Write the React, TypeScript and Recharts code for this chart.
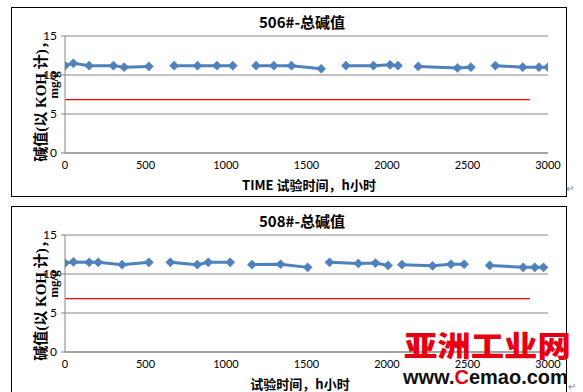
import React from "react";
import { LineChart, Line, XAxis, YAxis, CartesianGrid } from "recharts";

// ---- data ----
const xTicks = [0, 500, 1000, 1500, 2000, 2500, 3000];
const yTicks = [0, 5, 10, 15];

// 506# : test hours per measuring run (segments broken by gaps)
const hours506 = [
  [0, 52, 150, 301, 367, 521],
  [678, 823, 944, 1042],
  [1187, 1297, 1407, 1591],
  [1745, 1916, 2019, 2068],
  [2194, 2437, 2521],
  [2673, 2843, 2944, 3000],
];
const tbn506 = [
  [11.2, 11.5, 11.2, 11.2, 11.0, 11.1],
  [11.2, 11.2, 11.2, 11.2],
  [11.2, 11.2, 11.2, 10.8],
  [11.2, 11.2, 11.3, 11.2],
  [11.1, 10.9, 11.0],
  [11.2, 11.0, 11.0, 11.0],
];

// 508#
const hours508 = [
  [0, 52, 150, 206, 355, 521],
  [654, 822, 890, 1026],
  [1161, 1339, 1507],
  [1643, 1822, 1928, 2007],
  [2093, 2283, 2397, 2479],
  [2638, 2846, 2918, 2972],
];
const tbn508 = [
  [11.4, 11.55, 11.5, 11.5, 11.2, 11.5],
  [11.5, 11.2, 11.5, 11.5],
  [11.2, 11.25, 10.85],
  [11.5, 11.35, 11.4, 11.1],
  [11.2, 11.05, 11.25, 11.25],
  [11.1, 10.85, 10.85, 10.85],
];

// red limit line
const limitHours = [0, 2888];
const limitValue = [6.85, 6.85];

const titles = ["506#-总碱值", "508#-总碱值"];
const xTitles = ["TIME 试验时间，h小时", "试验时间，h小时"];
const yTitle = "碱值(以 KOH 计)，";
const yUnit = "mg/g";

const BLUE = "#4F81BD";
const GRID = "#868686";

const Diamond = (props: any) => {
  const { cx, cy } = props;
  if (cx == null || cy == null) return null;
  const r = 4.6;
  return (
    <polygon
      points={`${cx},${cy - r} ${cx + r},${cy} ${cx},${cy + r} ${cx - r},${cy}`}
      fill={BLUE}
      stroke={BLUE}
      strokeWidth={0.5}
    />
  );
};

const abs = (extra: React.CSSProperties): React.CSSProperties => ({
  position: "absolute",
  whiteSpace: "nowrap",
  lineHeight: 1,
  ...extra,
});

function Panel({
  top,
  hours,
  tbn,
  title,
  xTitle,
  xTitleX,
  height,
  bottomBorder,
}: {
  top: number;
  hours: number[][];
  tbn: number[][];
  title: string;
  xTitle: string;
  xTitleX: number;
  height: number;
  bottomBorder: boolean;
}) {
  const segments = hours.map((hs, i) => hs.map((h, j) => ({ x: h, y: tbn[i][j] })));
  const limit = limitHours.map((h, i) => ({ x: h, y: limitValue[i] }));
  return (
    <>
      <div
        style={{
          position: "absolute",
          left: 11,
          top,
          width: 556,
          height,
          boxSizing: "border-box",
          border: "1px solid #000",
          borderBottom: bottomBorder ? "1px solid #000" : "none",
        }}
      />
      <div style={{ position: "absolute", left: 11, top }}>
        <LineChart
          width={556}
          height={189}
          margin={{ top: 29, right: 19, bottom: 0, left: 0 }}
        >
          <CartesianGrid horizontal vertical={false} stroke={GRID} strokeWidth={1} />
          <XAxis
            type="number"
            dataKey="x"
            domain={[0, 3000]}
            ticks={xTicks}
            interval={0}
            height={43}
            axisLine={{ stroke: GRID }}
            tickLine={false}
            tick={{ fontSize: 11, fill: "#000", fontFamily: "Lato, 'Noto Sans', sans-serif" }}
            allowDataOverflow
          />
          <YAxis
            type="number"
            domain={[0, 15]}
            ticks={yTicks}
            interval={0}
            width={54}
            axisLine={{ stroke: GRID }}
            tickLine={{ stroke: GRID }}
            tickSize={4}
            tickMargin={4}
            tick={{ fontSize: 12, fill: "#000", fontFamily: "Lato, 'Noto Sans', sans-serif" }}
          />
          <Line
            data={limit}
            dataKey="y"
            stroke="#FF0000"
            strokeWidth={1.2}
            dot={false}
            isAnimationActive={false}
          />
          {segments.map((seg, i) => (
            <Line
              key={i}
              data={seg}
              dataKey="y"
              stroke={BLUE}
              strokeWidth={3}
              dot={<Diamond />}
              activeDot={false}
              isAnimationActive={false}
            />
          ))}
        </LineChart>
      </div>
      <div
        style={abs({
          left: 302,
          top: top + 14,
          transform: "translate(-50%,-50%)",
          fontSize: 15,
          fontWeight: 700,
          fontFamily: "'Noto Sans CJK SC', sans-serif",
          color: "#000",
        })}
      >
        {title}
      </div>
      <div
        style={abs({
          left: xTitleX,
          top: top + 177,
          transform: "translate(-50%,-50%)",
          fontSize: 13,
          fontWeight: 700,
          fontFamily: "'Noto Sans CJK SC', sans-serif",
          color: "#000",
        })}
      >
        {xTitle}
      </div>
      <div
        style={abs({
          left: 41,
          top: top + 91,
          transform: "translate(-50%,-50%) rotate(-90deg)",
          fontSize: 15,
          fontWeight: 700,
          fontFamily: "'Liberation Serif', 'Noto Sans CJK SC', serif",
          color: "#000",
        })}
      >
        {yTitle}
      </div>
      <div
        style={abs({
          left: 53,
          top: top + 78,
          transform: "translate(-50%,-50%) rotate(-90deg)",
          fontSize: 13,
          fontWeight: 700,
          fontFamily: "'Liberation Serif', serif",
          color: "#000",
        })}
      >
        {yUnit}
      </div>
    </>
  );
}

export default function App() {
  return (
    <div
      style={{
        position: "absolute",
        left: 0,
        top: 0,
        width: 583,
        height: 392,
        overflow: "hidden",
        background: "#fff",
      }}
    >
      <Panel
        top={7}
        hours={hours506}
        tbn={tbn506}
        title={titles[0]}
        xTitle={xTitles[0]}
        xTitleX={309}
        height={190}
        bottomBorder
      />
      <Panel
        top={206}
        hours={hours508}
        tbn={tbn508}
        title={titles[1]}
        xTitle={xTitles[1]}
        xTitleX={300}
        height={200}
        bottomBorder={false}
      />
      <div style={abs({ left: 566, top: 184, fontSize: 10, color: "#888" })}>↵</div>
      <div style={abs({ left: 568, top: 382, fontSize: 10, color: "#888" })}>↵</div>
      <div
        style={abs({
          left: 404,
          top: 330,
          fontSize: 29,
          fontWeight: 900,
          fontFamily: "'Noto Sans CJK SC', sans-serif",
          color: "#E60012",
          transform: "scaleX(1.15)",
          transformOrigin: "left top",
          letterSpacing: 0,
        })}
      >
        亚洲工业网
      </div>
      <div
        style={abs({
          left: 403,
          top: 367,
          fontSize: 20,
          fontWeight: 700,
          fontFamily: "'Liberation Sans', Arial, sans-serif",
          color: "#111",
        })}
      >
        www.<span style={{ color: "#E60012" }}>C</span>emao.com
      </div>
    </div>
  );
}
